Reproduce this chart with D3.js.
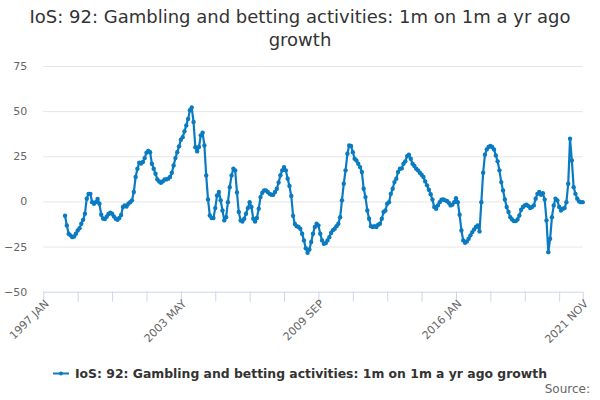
<!DOCTYPE html>
<html>
<head>
<meta charset="utf-8">
<script src="https://cdn.jsdelivr.net/npm/d3@7"></script>
<style>
html,body{margin:0;padding:0;background:#fff;}
svg{display:block;font-family:"DejaVu Sans",sans-serif;}
</style>
</head>
<body>
<svg id="chart" width="600" height="400"></svg>
<script>
const titleLines = ["IoS: 92: Gambling and betting activities: 1m on 1m a yr ago", "growth"];
const seriesName = "IoS: 92: Gambling and betting activities: 1m on 1m a yr ago growth";
const monthNames = ["JAN","FEB","MAR","APR","MAY","JUN","JUL","AUG","SEP","OCT","NOV","DEC"];
const firstYear = 1997, lastYear = 2021, lastMonth = 10;
const seriesStart = "1998 JAN";
const xTickLabels = ["1997 JAN","2003 MAY","2009 SEP","2016 JAN","2021 NOV"];
const yTicks = [-50,-25,0,25,50,75];
const values = [
-7.9,-13.3,-17.9,-18.8,-19.8,-19.4,-17.9,-16.1,-14.8,-12.4,-10.2,-6.8,
1.5,4.2,4.2,-0.4,-1.3,-0.4,1.3,-1.3,-7.4,-9.5,-9.8,-8.5,
-7,-6.3,-6.8,-8.3,-9.6,-10.2,-9.2,-7.5,-3.1,-2.2,-2.8,-1.3,
-0.4,0.6,5.2,13.5,18.1,21.4,21,21.8,24,27,27.9,27.3,
20.9,18.1,15.3,12.2,11,10.3,11.1,12.2,12.2,12.6,13.5,15.9,
19.9,24,27.3,30.5,34.2,35.6,38.8,42.1,45.7,50.5,52,44,
30,27.7,30.1,36.6,38,31,14.4,1.1,-7.8,-9.2,-9.2,-3.7,
3.3,5.2,0.6,-5,-10.5,-8.7,-0.4,7.9,14.4,18.1,17.2,5,
-5.9,-10.5,-11.1,-9.6,-6.8,-3.7,-0.4,-3.1,-9.6,-11.1,-9.2,-4,
2.4,4.8,6.1,6.1,5.2,4.2,3.7,3.7,5.2,7,10.5,14.5,
17.2,19,17.2,12.6,8.5,3,-8,-12.5,-13.7,-14.2,-15.1,-17.9,
-21.6,-25.9,-28.4,-26.6,-22.5,-17.9,-14.2,-12.4,-13.3,-17.9,-21.6,-23.5,
-23.1,-21.6,-19.8,-17.5,-15.9,-15.1,-13.7,-12.4,-8.7,0.6,9.8,17.2,
26.4,31,30.7,27.3,23.6,22.7,20.9,19,16.3,7,2.4,-5,
-9.6,-13.7,-14.2,-13.7,-14.2,-12.9,-12.4,-9.6,-5.9,-5,-1.3,-0.4,
4.2,7,10.7,12.6,16.3,18.1,18.3,20.9,22.2,25.1,25.9,23.6,
20.9,19.6,18.1,17.2,15.9,14.8,13.5,11.1,8.9,6.5,4,1,
-3.1,-4.1,-2.2,-0.4,0.9,1.1,0.6,0.2,-0.7,-2.2,-1.8,-0.4,
1.8,-0.4,-7.4,-16.1,-21.6,-22.9,-22.2,-20.7,-18.8,-17,-15.5,-14.2,
-13.3,-16.6,-0.4,15.9,25.9,28.8,30.1,30.7,30.1,28.8,25.5,22.2,
17.2,10.7,6.1,1.1,-3.1,-5.9,-8.7,-10,-10.9,-10.9,-10,-7.8,
-4.6,-3.1,-2.2,-1.8,-2.6,-3.7,-3.1,-2.2,1.5,4.2,5.2,3.7,
4.5,1,-10.5,-28.1,-20.7,-8.7,-2.2,1.5,0.6,-3.1,-5,-4.1,
-3.7,-0.4,9.8,34.7,22.7,7.9,4.2,1.5,0,-0.4,-0.4
];

const categories = [];
for (let yr = firstYear; yr <= lastYear; yr++) {
  for (let m = 0; m < 12; m++) {
    if (yr === lastYear && m > lastMonth) break;
    categories.push(yr + " " + monthNames[m]);
  }
}
const startIdx = categories.indexOf(seriesStart);
const data = values.map((v, k) => ({cat: categories[startIdx + k], v}));

const svg = d3.select("#chart");
const W = 600, H = 400;
const plotLeft = 43.3, plotRight = 582.7, plotTop = 66, plotBottom = 291.7;
const lineColor = "#0a7bc1";

const x = d3.scalePoint().domain(categories).range([plotLeft, plotRight]);
const y = d3.scaleLinear().domain([-50, 75]).range([plotBottom, plotTop]);

// title
const title = svg.append("text").attr("text-anchor", "middle")
  .attr("font-size", 18).attr("fill", "#333");
titleLines.forEach((t, i) => {
  title.append("tspan").attr("x", W / 2).attr("y", 23 + i * 23).text(t);
});

// gridlines + y labels
const yAxis = d3.axisLeft(y).tickValues(yTicks).tickSize(-(plotRight - plotLeft)).tickPadding(16);
const gy = svg.append("g").attr("transform", `translate(${plotLeft},0)`).call(yAxis);
gy.select(".domain").remove();
gy.selectAll(".tick line").attr("stroke", "#e6e6e6").attr("stroke-width", 1);
gy.selectAll(".tick text").attr("fill", "#666").attr("font-size", 11)
  .attr("font-family", "DejaVu Sans, sans-serif");
gy.selectAll(".tick").filter(d => d === -50).select("line").remove();

// x axis
const tickCats = categories.filter((c, i) => i % 19 === 0 || i === categories.length - 1);
const xAxis = d3.axisBottom(x).tickValues(tickCats).tickSize(10)
  .tickFormat(d => xTickLabels.includes(d) ? d : "");
const gx = svg.append("g").attr("transform", `translate(0,${plotBottom})`).call(xAxis);
gx.select(".domain").attr("stroke", "#ccd6eb").attr("d", `M${plotLeft},0.5H${plotRight}`);
gx.selectAll(".tick line").attr("stroke", "#ccd6eb");
gx.selectAll(".tick text").attr("fill", "#666").attr("font-size", 11)
  .attr("font-family", "DejaVu Sans, sans-serif")
  .attr("text-anchor", "end")
  .attr("transform", "translate(3,10) rotate(-45)")
  .attr("dy", "0.35em").attr("y", 0).attr("x", 0);

// line
const line = d3.line().x(d => x(d.cat)).y(d => y(d.v));
svg.append("path").datum(data).attr("d", line)
  .attr("fill", "none").attr("stroke", lineColor).attr("stroke-width", 2.2)
  .attr("stroke-linejoin", "round");
svg.append("g").selectAll("circle").data(data).join("circle")
  .attr("cx", d => x(d.cat)).attr("cy", d => y(d.v)).attr("r", 2.2)
  .attr("fill", lineColor);

// legend
const lg = svg.append("g");
const legText = lg.append("text").attr("x", 77).attr("y", 378)
  .attr("font-size", 12.4).attr("font-weight", "bold").attr("fill", "#333").text(seriesName);
const tw = legText.node().getComputedTextLength();
const lx = W / 2 - (tw + 22) / 2;
legText.attr("x", lx + 22);
lg.append("line").attr("x1", lx).attr("x2", lx + 16).attr("y1", 373.5).attr("y2", 373.5)
  .attr("stroke", lineColor).attr("stroke-width", 2);
lg.append("circle").attr("cx", lx + 8).attr("cy", 373.5).attr("r", 2).attr("fill", lineColor);

// source
svg.append("text").attr("x", 590).attr("y", 393).attr("text-anchor", "end")
  .attr("font-size", 12).attr("fill", "#666").text("Source:");
</script>
</body>
</html>
